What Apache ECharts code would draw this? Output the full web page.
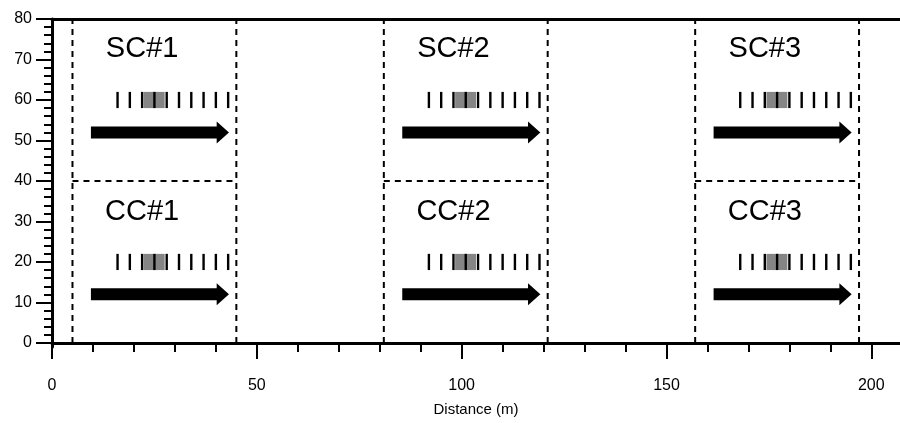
<!DOCTYPE html>
<html><head><meta charset="utf-8">
<script src="https://cdn.jsdelivr.net/npm/echarts@6/dist/echarts.min.js"></script>
<style>html,body{margin:0;padding:0;background:#fff}#c{width:900px;height:423px}</style>
</head><body><div id="c"></div>
<script>
// ---- data ----
const boxLeft = [5, 81, 157];
const boxRight = [45, 121, 197];
const boxBottom = 0, boxTop = 80, boxSplit = 40;
const topLabels = ['SC#1', 'SC#2', 'SC#3'];
const bottomLabels = ['CC#1', 'CC#2', 'CC#3'];
const labelX = [22, 98, 174];
const topLabelY = 72.5, bottomLabelY = 32.3;
const sensorTicks = [
  [16, 19, 22, 25, 28, 31, 34, 37, 40, 43],
  [92, 95, 98, 101, 104, 107, 110, 113, 116, 119],
  [168, 171, 174, 177, 180, 183, 186, 189, 192, 195]
];
const greyStart = [22.4, 98.4, 174.4];
const greyEnd = [27.5, 103.5, 179.5];
const sensorRowY = [60, 20];
const sensorLow = [58, 18], sensorHigh = [62, 22];
const arrowStart = [9.5, 85.5, 161.5];
const arrowHeadStart = [40.2, 116.2, 192.2];
const arrowTip = [43.2, 119.2, 195.2];
const arrowY = [52, 12];
const xTicks = [0, 50, 100, 150, 200];
const xMinor = [10, 20, 30, 40, 60, 70, 80, 90, 110, 120, 130, 140, 160, 170, 180, 190];
const yTicks = [0, 10, 20, 30, 40, 50, 60, 70, 80];
const yMinor = [2, 4, 6, 8, 12, 14, 16, 18, 22, 24, 26, 28, 32, 34, 36, 38, 42, 44, 46, 48,
  52, 54, 56, 58, 62, 64, 66, 68, 72, 74, 76, 78];

// ---- build series data ----
const dashData = [];
boxLeft.forEach((l, i) => {
  const r = boxRight[i];
  dashData.push([l, boxBottom, l, boxTop]);
  dashData.push([r, boxBottom, r, boxTop]);
  dashData.push([l, boxSplit, r, boxSplit]);
});
const textData = [];
boxLeft.forEach((l, i) => {
  textData.push([labelX[i], topLabelY, topLabels[i]]);
  textData.push([labelX[i], bottomLabelY, bottomLabels[i]]);
});
const greyData = [];
const tickData = [];
sensorRowY.forEach((y, r) => {
  boxLeft.forEach((l, i) => {
    greyData.push([greyStart[i], sensorLow[r], greyEnd[i], sensorHigh[r]]);
    sensorTicks[i].forEach(t => tickData.push([t, sensorLow[r], t, sensorHigh[r]]));
  });
});
const arrowData = [];
arrowY.forEach(y => {
  boxLeft.forEach((l, i) => arrowData.push([arrowStart[i], arrowHeadStart[i], arrowTip[i], y]));
});

const FONT = '"Liberation Sans", Arial, Helvetica, sans-serif';
const chart = echarts.init(document.getElementById('c'), null, {renderer: 'canvas'});

function segItem(dash, width) {
  return function (params, api) {
    const a = api.coord([api.value(0), api.value(1)]);
    const b = api.coord([api.value(2), api.value(3)]);
    return {type: 'line', shape: {x1: a[0], y1: a[1], x2: b[0], y2: b[1]},
      style: {stroke: '#000', lineWidth: width, lineDash: dash}};
  };
}

chart.setOption({
  animation: false,
  backgroundColor: '#fff',
  grid: {left: 52, right: 0, top: 19, bottom: 76, containLabel: false},
  xAxis: [
    {type: 'value', min: 0, max: 207, position: 'bottom',
      axisLine: {show: true, lineStyle: {color: '#000', width: 3}},
      axisTick: {show: true, customValues: xTicks, length: 16, lineStyle: {color: '#000', width: 2}},
      axisLabel: {customValues: xTicks, margin: 31, fontSize: 16, color: '#000', fontFamily: FONT},
      splitLine: {show: false},
      name: 'Distance (m)', nameLocation: 'middle', nameGap: 55,
      nameTextStyle: {fontSize: 15, color: '#000', fontFamily: FONT}},
    {type: 'value', min: 0, max: 207, position: 'bottom', offset: 0,
      axisLine: {show: false},
      axisTick: {show: true, customValues: xMinor, length: 9, lineStyle: {color: '#000', width: 2}},
      axisLabel: {show: false}, splitLine: {show: false}},
    {type: 'value', min: 0, max: 207, position: 'top', offset: 0,
      axisLine: {show: true, lineStyle: {color: '#000', width: 3}},
      axisTick: {show: false}, axisLabel: {show: false}, splitLine: {show: false}}
  ],
  yAxis: [
    {type: 'value', min: -1, max: 80, position: 'left',
      axisLine: {show: true, lineStyle: {color: '#000', width: 3}},
      axisTick: {show: true, customValues: yTicks, length: 16, lineStyle: {color: '#000', width: 2}},
      axisLabel: {customValues: yTicks, margin: 20, fontSize: 16, color: '#000', fontFamily: FONT},
      splitLine: {show: false}},
    {type: 'value', min: -1, max: 80, position: 'left', offset: 0,
      axisLine: {show: false},
      axisTick: {show: true, customValues: yMinor, length: 8, lineStyle: {color: '#000', width: 2}},
      axisLabel: {show: false}, splitLine: {show: false}}
  ],
  series: [
    {type: 'custom', name: 'boxes', xAxisIndex: 0, yAxisIndex: 0, data: dashData,
      renderItem: segItem([6, 5], 2)},
    {type: 'custom', name: 'grey', xAxisIndex: 0, yAxisIndex: 0, data: greyData,
      renderItem: function (params, api) {
        const a = api.coord([api.value(0), api.value(3)]);
        const b = api.coord([api.value(2), api.value(1)]);
        return {type: 'rect', shape: {x: a[0], y: a[1], width: b[0] - a[0], height: b[1] - a[1]},
          style: {fill: '#858585'}};
      }},
    {type: 'custom', name: 'sensors', xAxisIndex: 0, yAxisIndex: 0, data: tickData,
      renderItem: segItem(null, 2.4)},
    {type: 'custom', name: 'arrows', xAxisIndex: 0, yAxisIndex: 0, data: arrowData,
      renderItem: function (params, api) {
        const y = api.value(3);
        const p0 = api.coord([api.value(0), y]);
        const ph = api.coord([api.value(1), y]);
        const pt = api.coord([api.value(2), y]);
        const s = 6, h = 11;
        const cy = p0[1];
        return {type: 'polygon', shape: {points: [
          [p0[0], cy - s], [ph[0], cy - s], [ph[0], cy - h], [pt[0], cy],
          [ph[0], cy + h], [ph[0], cy + s], [p0[0], cy + s]]},
          style: {fill: '#000'}};
      }},
    {type: 'custom', name: 'labels', xAxisIndex: 0, yAxisIndex: 0, data: textData,
      dimensions: ['x', 'y', {name: 'text', type: 'ordinal'}],
      renderItem: function (params, api) {
        const p = api.coord([api.value(0), api.value(1)]);
        return {type: 'text', x: p[0], y: p[1],
          style: {text: textData[params.dataIndex][2], fill: '#000', fontSize: 29, fontFamily: FONT,
            align: 'center', verticalAlign: 'middle'}};
      }}
  ]
});
</script></body></html>
